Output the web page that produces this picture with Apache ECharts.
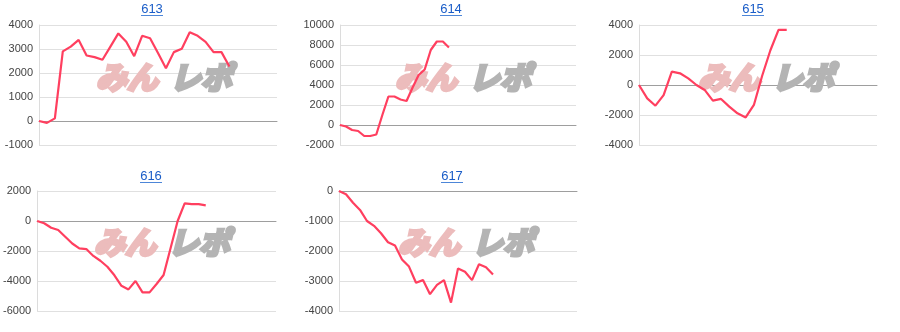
<!DOCTYPE html>
<html>
<head>
<meta charset="utf-8">
<script src="https://cdn.jsdelivr.net/npm/echarts@6/dist/echarts.min.js"></script>
<style>
html,body{margin:0;padding:0;background:#fff;}
#c{width:900px;height:332px;}
</style>
</head>
<body>
<div id="c"></div>
<script>
// chart titles
const titles = ['613', '614', '615', '616', '617'];
// series values (difference trend)
const s613 = [0, -80, 110, 2900, 3100, 3380, 2730, 2660, 2550, 3100, 3650, 3300, 2700, 3550, 3450, 2830, 2200, 2870, 3010, 3700, 3550, 3300, 2870, 2870, 2270];
const s614 = [0, -150, -500, -600, -1100, -1100, -950, 1000, 2850, 2850, 2550, 2400, 3750, 5000, 5550, 7500, 8350, 8350, 7750];
const s615 = [0, -890, -1380, -670, 890, 780, 440, 0, -330, -1040, -930, -1440, -1890, -2160, -1330, 600, 2300, 3670, 3670];
const s616 = [0, -150, -450, -600, -1050, -1500, -1830, -1870, -2330, -2650, -3050, -3620, -4320, -4560, -4000, -4760, -4760, -4200, -3600, -1800, 0, 1180, 1130, 1120, 1040];
const s617 = [0, -110, -390, -630, -1000, -1160, -1410, -1710, -1820, -2280, -2520, -3060, -2970, -3440, -3130, -2970, -3720, -2580, -2690, -2970, -2440, -2540, -2780];
// number of x slots on each chart's horizontal axis
const xSlots = [31, 40, 30, 35, 35];
// y axis ranges: [min, max, interval]
const yMin = [-1000, -2000, -4000, -6000, -4000];
const yMax = [4000, 10000, 4000, 2000, 0];
const yStep = [1000, 2000, 2000, 2000, 1000];

const seriesData = [s613, s614, s615, s616, s617];

// layout
const grids = [
  {left: 39, top: 25, width: 238, height: 120},
  {left: 340, top: 25, width: 236, height: 120},
  {left: 639, top: 25, width: 238, height: 120},
  {left: 37, top: 191, width: 239, height: 120},
  {left: 339, top: 191, width: 238, height: 120}
];

const FONT = '"Liberation Sans", Arial, sans-serif';
const option = {
  animation: false,
  grid: grids,
  xAxis: grids.map((g, i) => ({
    type: 'category',
    gridIndex: i,
    boundaryGap: false,
    data: Array.from({length: xSlots[i]}, (_, k) => String(k + 1)),
    axisLabel: {show: false},
    axisTick: {show: false},
    axisLine: {show: true, onZero: true, lineStyle: {color: '#9e9e9e', width: 1}},
    splitLine: {show: false}
  })),
  yAxis: grids.map((g, i) => ({
    type: 'value',
    gridIndex: i,
    min: yMin[i], max: yMax[i], interval: yStep[i],
    axisLine: {show: true, lineStyle: {color: '#dcdcdc'}},
    axisTick: {show: false},
    axisLabel: {color: '#444', fontSize: 11, fontFamily: FONT, margin: 6, formatter: v => String(v)},
    splitLine: {show: true, lineStyle: {color: '#e0e0e0', width: 1}}
  })),
  series: seriesData.map((d, i) => ({
    type: 'line',
    xAxisIndex: i, yAxisIndex: i,
    data: d,
    symbol: 'none',
    z: 5,
    lineStyle: {color: '#ff3f5f', width: 2.2},
    itemStyle: {color: '#ff3f5f'}
  })),
  graphic: []
};

// titles (link style) and watermark
const titleCenters = [[152, 9], [451, 9], [753, 9], [151, 176], [452, 176]];
const wmPos = [[96, 77], [395, 77], [698, 77], [94, 242], [398, 242]];
titleCenters.forEach((c, i) => {
  option.graphic.push({
    type: 'text', x: c[0], y: c[1], z: 10,
    style: {text: titles[i], fill: '#1a5dc8', font: '13px ' + FONT, textAlign: 'center', textVerticalAlign: 'middle'}
  });
  option.graphic.push({
    type: 'rect', shape: {x: c[0] - 11, y: c[1] + 6, width: 22, height: 1}, z: 10,
    style: {fill: '#4d86d8'}
  });
  const w = wmPos[i];
  option.graphic.push({
    type: 'text', x: w[0], y: w[1], z: 1, silent: true,
    style: {text: 'みん', fill: '#ecbcbc', stroke: '#ecbcbc', lineWidth: 3.5, font: 'italic bold 31px "Noto Sans CJK JP"', textVerticalAlign: 'middle'}
  });
  option.graphic.push({
    type: 'text', x: w[0] + 74, y: w[1], z: 1, silent: true,
    style: {text: 'レポ', fill: '#b4b4b4', stroke: '#b4b4b4', lineWidth: 3.5, font: 'italic bold 31px "Noto Sans CJK JP"', textVerticalAlign: 'middle'}
  });
});

const chart = echarts.init(document.getElementById('c'), null, {renderer: 'canvas'});
chart.setOption(option);
</script>
</body>
</html>
